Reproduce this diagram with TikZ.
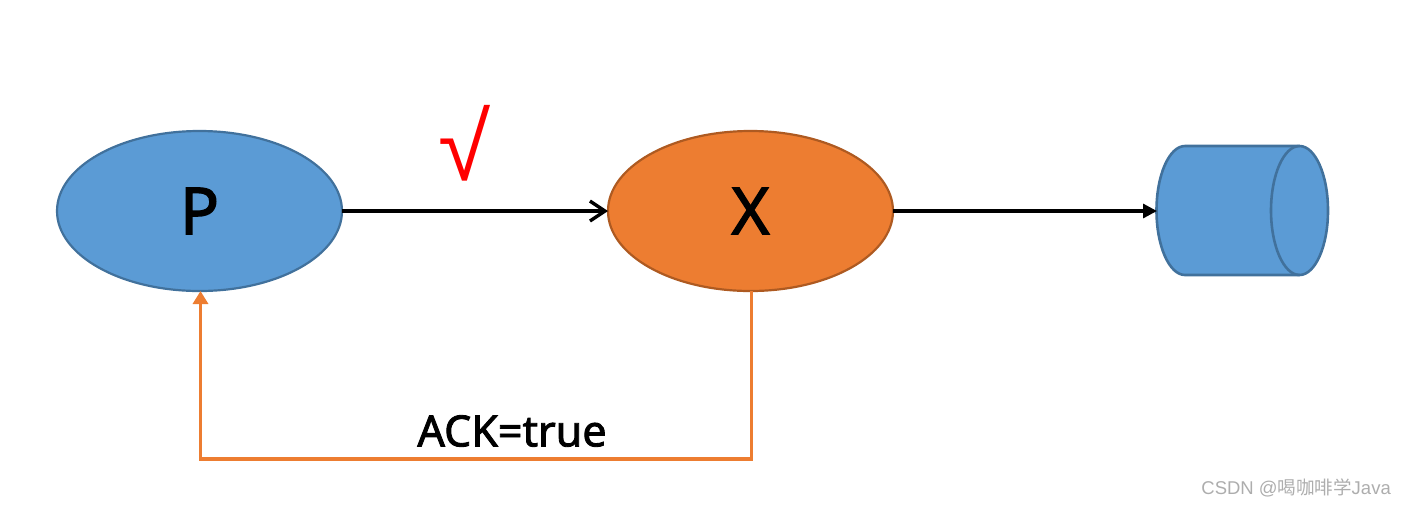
\documentclass[tikz,border=0pt]{standalone}
\usepackage{fontspec}
\setmainfont{Noto Sans}
\newfontfamily\heavyfont[FakeBold=2]{Noto Sans}
\newfontfamily\cjkfont{Noto Sans CJK SC}
\newfontfamily\wmfont{Liberation Sans}
\usetikzlibrary{shapes.geometric,arrows.meta}
\definecolor{blueF}{HTML}{5B9BD5}
\definecolor{blueD}{HTML}{41719C}
\definecolor{orangeF}{HTML}{ED7D31}
\definecolor{orangeD}{HTML}{AE5A21}
\tikzset{
  x=1pt,y=-1pt,
  oval/.style={ellipse,draw,line width=2.2pt,minimum width=285pt,minimum height=160pt,inner sep=0pt,outer sep=0pt,font=\heavyfont\fontsize{65}{65}\selectfont},
  flow/.style={draw=black,line width=3.2pt},
  ack/.style={draw=orangeF,line width=3.8pt,-{Triangle[length=13pt,width=15pt]}},
  drum/.style={draw=blueD,fill=blueF,line width=2.6pt},
}
\begin{document}
\begin{tikzpicture}
\useasboundingbox (0,0) rectangle (1405,507);
\node[oval,fill=blueF,draw=blueD] (P) at (199.5,211) {P};
\node[oval,fill=orangeF,draw=orangeD] (X) at (750.5,211) {X};
\node[rectangle,minimum width=171pt,minimum height=129pt,inner sep=0pt,outer sep=0pt] (D) at (1242.5,210.5) {};
\draw[drum] (1185,146) -- (1299.5,146) .. controls (1315.2,146) and (1328,174.9) .. (1328,210.5) .. controls (1328,246.1) and (1315.2,275) .. (1299.5,275) -- (1185,275) .. controls (1169.3,275) and (1156.5,246.1) .. (1156.5,210.5) .. controls (1156.5,174.9) and (1169.3,146) .. (1185,146) -- cycle;
\draw[drum,fill=none] (1299.5,146) .. controls (1283.8,146) and (1271,174.9) .. (1271,210.5) .. controls (1271,246.1) and (1283.8,275) .. (1299.5,275);
\draw[flow,-{Straight Barb[length=15pt,width=20pt,line width=3.4pt]}] (P.east) -- (X.west);
\draw[flow,-{Triangle[length=14pt,width=14pt]}] (X.east) -- (X.east -| D.west);
\coordinate (low) at (476,459);
\draw[ack] ([xshift=1pt]X.south) -- ([xshift=1pt]X.south |- low) -- ([xshift=1pt]P.south |- low) -- ([xshift=1pt]P.south);
\node[font=\heavyfont\fontsize{43}{43}\selectfont,inner sep=0pt] (L) at (512,431) {ACK=true};
\node[font=\wmfont\fontsize{95}{95}\selectfont,text=red,inner sep=0pt] (C) at (465,143.5) {√};
\node[font=\fontsize{18.5}{18.5}\selectfont,text=black!32,inner sep=0pt,anchor=east] (W) at (1391,488) {\wmfont CSDN @\cjkfont 喝咖啡学\wmfont Java};
\end{tikzpicture}
\end{document}
